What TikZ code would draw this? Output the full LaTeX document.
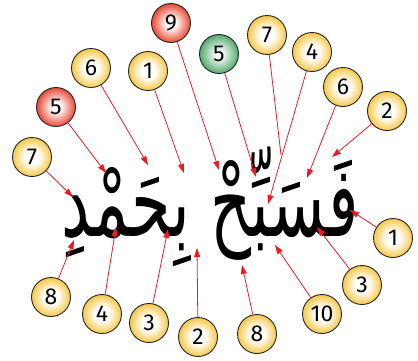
\documentclass[tikz,border=0pt]{standalone}
\usepackage{fontspec}
\usetikzlibrary{arrows.meta}
\TeXXeTstate=1
\newfontfamily\arabicfont[Script=Arabic]{DejaVu Sans}
\newfontfamily\numfont{Fira Sans}
\definecolor{ballyellow}{RGB}{246,200,72}
\definecolor{ballred}{RGB}{232,72,52}
\definecolor{ballgreen}{RGB}{84,170,110}
\definecolor{arrowred}{RGB}{236,28,36}
\pgfdeclareradialshading{yellowball}{\pgfpoint{0bp}{0bp}}{color(0bp)=(white); color(9bp)=(white); color(25bp)=(ballyellow); color(50bp)=(ballyellow)}
\pgfdeclareradialshading{redball}{\pgfpoint{0bp}{0bp}}{color(0bp)=(white); color(6bp)=(white); color(25bp)=(ballred); color(50bp)=(ballred)}
\pgfdeclareradialshading{greenball}{\pgfpoint{0bp}{0bp}}{color(0bp)=(white); color(4bp)=(white); color(25bp)=(ballgreen); color(50bp)=(ballgreen)}
\tikzset{
  ball/.style={circle, draw=black!85, line width=0.9pt, minimum size=39pt, inner sep=0pt, font=\numfont\fontsize{23}{23}\selectfont},
  yball/.style={ball, shading=yellowball},
  rball/.style={ball, shading=redball},
  gball/.style={ball, shading=greenball},
  pointer/.style={draw=arrowred, line width=0.8pt, -{Triangle[length=9pt,width=6pt]}},
}
\begin{document}
\begin{tikzpicture}[x=1pt, y=-1pt]
	\useasboundingbox (0,0) rectangle (418,360);
	% The verse:
	\node[font=\arabicfont\fontsize{70}{70}\selectfont, inner sep=0pt] (verse) at (210,207) {\scalebox{0.91}[1.4]{\beginR فَسَبِّحْ بِحَمْدِ\endR}};
	% Balls above the verse:
	\node[yball] (b7l) at (32,157) {7};
	\node[rball] (b5r) at (56,107) {5};
	\node[yball] (b6l) at (91,68) {6};
	\node[yball] (b1t) at (148,71) {1};
	\node[rball] (b9) at (171,23) {9};
	\node[gball] (b5g) at (219,54) {5};
	\node[yball] (b7t) at (267,35) {7};
	\node[yball] (b4t) at (312,52) {4};
	\node[yball] (b6r) at (343,87) {6};
	\node[yball] (b2r) at (387,111) {2};
	% Balls below the verse:
	\node[yball] (b1r) at (393,238) {1};
	\node[yball] (b3r) at (362,285) {3};
	\node[yball] (b10) at (322,314) {10};
	\node[yball] (b8r) at (257,334) {8};
	\node[yball] (b2b) at (198,337) {2};
	\node[yball] (b3l) at (149,323) {3};
	\node[yball] (b4l) at (102,314) {4};
	\node[yball] (b8l) at (51,297) {8};
	% Arrow tips on the letters:
	\coordinate (t7l) at (73,197);
	\coordinate (t5r) at (106,173);
	\coordinate (t6l) at (148,165);
	\coordinate (t1t) at (184,173);
	\coordinate (t9) at (219,170);
	\coordinate (t5g) at (256,177);
	\coordinate (meet) at (281,155);
	\coordinate (t4t) at (268,204);
	\coordinate (t6r) at (307,178);
	\coordinate (t2r) at (332,157);
	\coordinate (t1r) at (350,210);
	\coordinate (t3r) at (317,227);
	\coordinate (t10) at (275,245);
	\coordinate (t8r) at (242,265);
	\coordinate (t2b) at (197,248);
	\coordinate (t3l) at (168,229);
	\coordinate (t4l) at (116,227);
	\coordinate (t8l) at (74,240);
	% Arrows:
	\draw[pointer] (b7l) -- (t7l);
	\draw[pointer] (b5r) -- (t5r);
	\draw[pointer] (b6l) -- (t6l);
	\draw[pointer] (b1t) -- (t1t);
	\draw[pointer] (b9) -- (t9);
	\draw[pointer] (b5g) -- (t5g);
	\draw[draw=arrowred, line width=0.8pt] (b7t) -- (meet);
	\draw[pointer] (b4t) -- (t4t);
	\draw[pointer] (b6r) -- (t6r);
	\draw[pointer] (b2r) -- (t2r);
	\draw[pointer] (b1r) -- (t1r);
	\draw[pointer] (b3r) -- (t3r);
	\draw[pointer] (b10) -- (t10);
	\draw[pointer] (b8r) -- (t8r);
	\draw[pointer] (b2b) -- (t2b);
	\draw[pointer] (b3l) -- (t3l);
	\draw[pointer] (b4l) -- (t4l);
	\draw[pointer] (b8l) -- (t8l);
\end{tikzpicture}
\end{document}
